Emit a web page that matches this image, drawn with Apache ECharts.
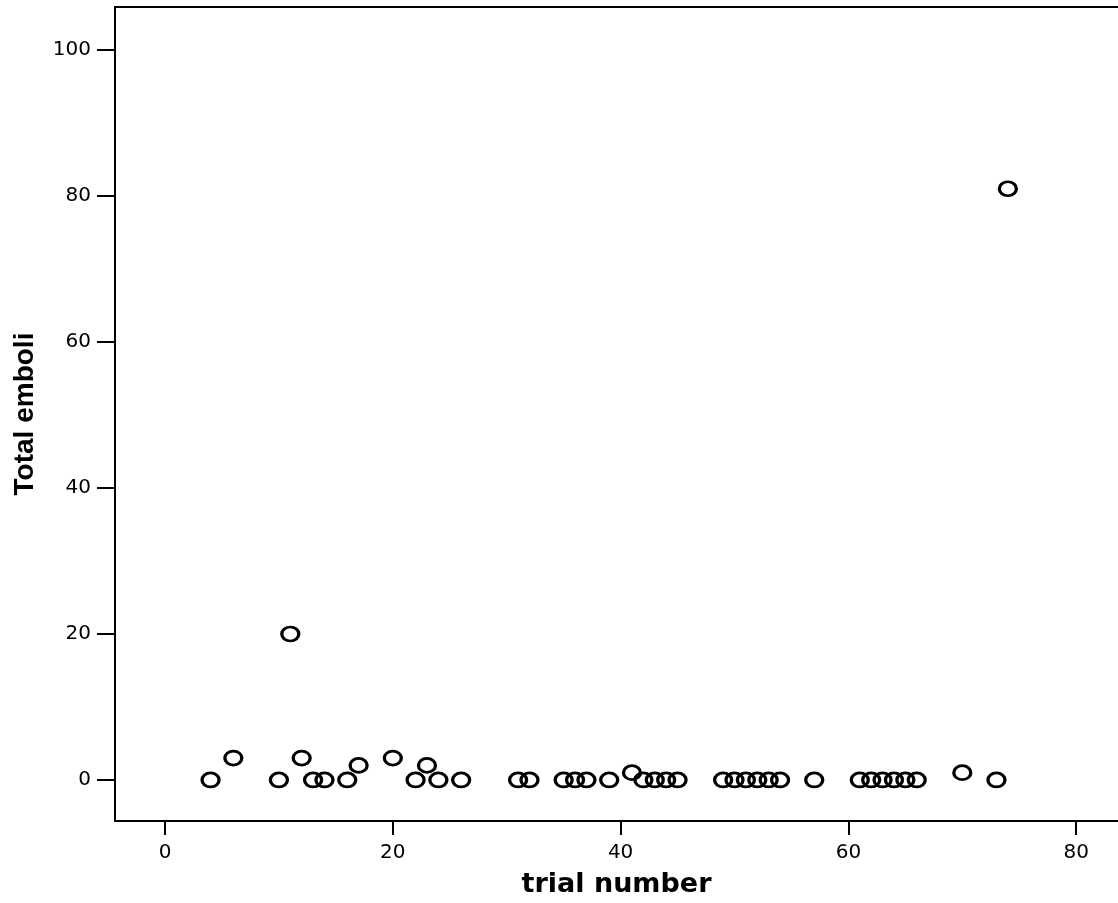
<!DOCTYPE html>
<html>
<head>
<meta charset="utf-8">
<style>
  html, body { margin: 0; padding: 0; background: #ffffff; }
  #chart { width: 1118px; height: 903px; }
</style>
<script src="https://cdn.jsdelivr.net/npm/echarts@6/dist/echarts.min.js"></script>
</head>
<body>
<div id="chart"></div>
<script>
// Data
const trialNumber = [4, 6, 10, 11, 12, 13, 14, 16, 17, 20, 22, 23, 24, 26,
  31, 32, 35, 36, 37, 39, 41, 42, 43, 44, 45, 49, 50, 51, 52, 53, 54, 57,
  61, 62, 63, 64, 65, 66, 70, 73, 74];
const totalEmboli = [0, 3, 0, 20, 3, 0, 0, 0, 2, 3, 0, 2, 0, 0,
  0, 0, 0, 0, 0, 0, 1, 0, 0, 0, 0, 0, 0, 0, 0, 0, 0, 0,
  0, 0, 0, 0, 0, 0, 1, 0, 81];
const xTicks = [0, 20, 40, 60, 80];
const yTicks = [0, 20, 40, 60, 80, 100];
const xName = 'trial number';
const yName = 'Total emboli';

const points = trialNumber.map((t, i) => [t, totalEmboli[i]]);

const X_MIN = -4.39, X_MAX = 83.67;
const Y_MIN = -5.62, Y_MAX = 105.9;

const chart = echarts.init(document.getElementById('chart'), null, { renderer: 'canvas' });
chart.setOption({
  animation: false,
  backgroundColor: '#ffffff',
  grid: { left: 115, right: 0, top: 7, bottom: 82, containLabel: false },
  xAxis: [{
    type: 'value',
    position: 'bottom',
    min: X_MIN, max: X_MAX,
    name: xName,
    nameLocation: 'middle',
    nameGap: 50,
    nameTextStyle: { fontFamily: 'DejaVu Sans', fontWeight: 'bold', fontSize: 27, color: '#000' },
    axisLine: { show: true, onZero: false, lineStyle: { color: '#000', width: 2 } },
    axisTick: { show: true, length: 14, inside: false, customValues: xTicks, lineStyle: { color: '#000', width: 2 } },
    axisLabel: { show: true, customValues: xTicks, margin: 22, fontFamily: 'DejaVu Sans', fontSize: 20, color: '#000' },
    splitLine: { show: false }
  }, {
    type: 'value',
    position: 'top',
    min: X_MIN, max: X_MAX,
    axisLine: { show: true, onZero: false, lineStyle: { color: '#000', width: 2 } },
    axisTick: { show: false },
    axisLabel: { show: false },
    splitLine: { show: false }
  }],
  yAxis: {
    type: 'value',
    min: Y_MIN, max: Y_MAX,
    name: yName,
    nameLocation: 'middle',
    nameGap: 76,
    nameTextStyle: { fontFamily: 'Liberation Sans', fontWeight: 'bold', fontSize: 28, color: '#000' },
    axisLine: { show: true, onZero: false, lineStyle: { color: '#000', width: 2 } },
    axisTick: { show: true, length: 18, customValues: yTicks, lineStyle: { color: '#000', width: 2 } },
    axisLabel: { show: true, customValues: yTicks, margin: 24, fontFamily: 'DejaVu Sans', fontSize: 20, color: '#000' },
    splitLine: { show: false }
  },
  series: [{
    type: 'scatter',
    xAxisIndex: 0,
    data: points,
    symbol: 'circle',
    symbolSize: [17, 14],
    itemStyle: { color: 'rgba(0,0,0,0)', borderColor: '#000', borderWidth: 3, opacity: 1 },
    emphasis: { disabled: true }
  }]
});
</script>
</body>
</html>
